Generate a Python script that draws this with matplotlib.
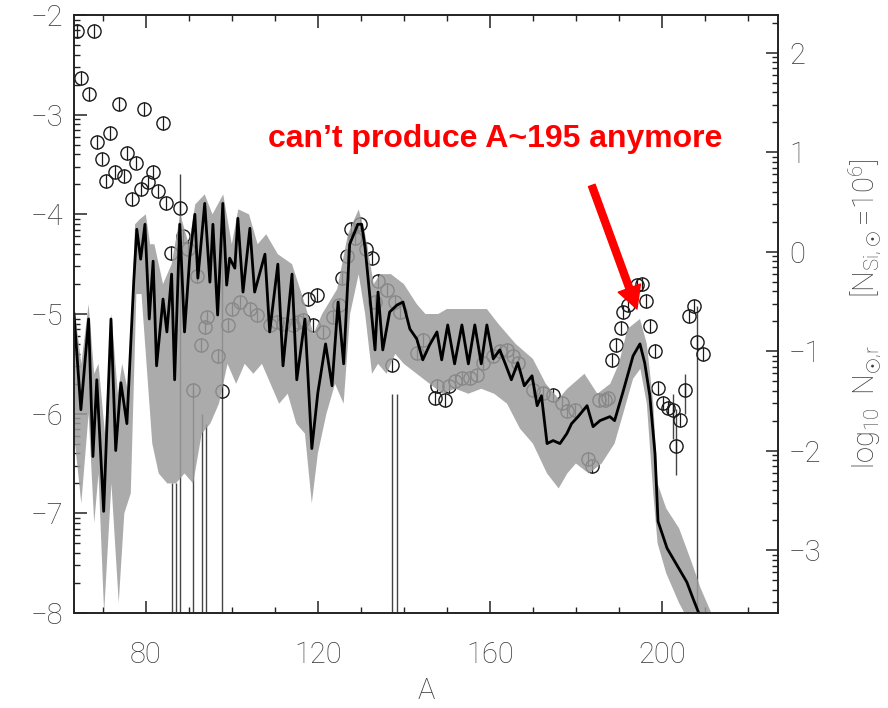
import numpy as np
import matplotlib
matplotlib.use('Agg')
import matplotlib.pyplot as plt
from matplotlib.ticker import FixedLocator

# ---------------- data ----------------
# model abundance curve (left axis: log10 abundance)
line_A = [63.3, 64.9, 66.7, 67.7, 68.6, 70.2, 71.9, 73.0, 74.2, 75.6, 77.2, 77.9, 78.8, 79.8,
          80.8, 81.7, 82.5, 84.0, 84.9, 86.0, 86.7, 87.9, 89.0, 90.2, 91.4, 92.1, 93.7, 94.9,
          95.6, 96.7, 97.9, 98.8, 99.5, 100.7, 101.4, 102.6, 104.2, 105.3, 107.7, 108.8, 110.7,
          111.9, 114.0, 115.1, 117.0, 118.6, 120.0, 121.8, 123.3, 124.7, 126.0, 127.4, 129.3,
          130.2, 131.0, 132.6, 133.3, 134.0, 135.1, 136.7, 138.4, 139.8, 141.4, 143.0, 144.4,
          146.0, 147.7, 148.8, 150.2, 151.8, 153.5, 155.0, 156.5, 158.0, 159.3, 160.8, 162.3,
          163.5, 165.0, 166.5, 168.0, 169.8, 171.0, 172.0, 173.3, 174.7, 176.3, 177.9, 179.0,
          180.5, 182.6, 184.0, 185.6, 187.9, 189.0, 190.9, 193.3, 194.9, 196.0, 197.2, 198.4,
          199.1, 201.2, 203.5, 205.8, 207.2, 209.3]
line_v = [-5.00, -5.96, -5.05, -6.43, -5.66, -6.98, -5.05, -6.37, -5.69, -6.10, -4.67, -4.15, -4.45, -4.10,
          -5.05, -4.47, -5.52, -4.85, -5.18, -4.60, -5.66, -4.10, -5.18, -4.44, -4.00, -4.64, -3.89, -4.68,
          -4.10, -5.01, -3.89, -4.71, -4.44, -4.54, -4.04, -4.78, -4.14, -4.78, -4.40, -5.18, -4.50,
          -5.52, -4.60, -5.66, -5.05, -6.35, -5.79, -5.30, -5.72, -4.88, -5.50, -4.30, -4.10,
          -4.10, -4.34, -5.05, -5.36, -4.78, -5.36, -4.98, -4.91, -4.88, -5.15, -5.25, -5.46,
          -5.31, -5.18, -5.46, -5.11, -5.50, -5.11, -5.50, -5.11, -5.50, -5.11, -5.45, -5.36,
          -5.49, -5.66, -5.49, -5.72, -5.62, -5.92, -5.82, -6.30, -6.27, -6.30, -6.20, -6.10,
          -6.03, -5.92, -6.13, -6.07, -6.03, -6.07, -5.79, -5.42, -5.30, -5.49, -5.82, -6.40,
          -7.08, -7.35, -7.52, -7.69, -7.85, -8.08]

# uncertainty band of the model (upper and lower edges)
band_up_A = [63.3, 65.0, 66.7, 68.0, 69.0, 70.5, 72.0, 73.5, 74.5, 76.0, 77.5, 78.6, 80.0, 81.0, 82.0,
             84.0, 86.0, 88.0, 90.0, 91.5, 93.7, 95.5, 98.0, 100.0, 101.5, 104.0, 106.0, 108.0, 110.7,
             114.0, 117.0, 119.0, 121.0, 124.5, 127.0, 129.5, 131.0, 133.0, 134.5, 137.0, 140.0,
             143.0, 145.0, 148.0, 150.0, 153.5, 156.5, 159.3, 162.0, 166.0, 170.0, 173.0, 176.0,
             178.0, 182.0, 185.0, 188.0, 190.0, 192.0, 194.9, 196.5, 198.0, 199.0, 201.0, 204.0,
             207.0, 209.0, 212.0]
band_up_v = [-4.9, -5.5, -4.9, -5.6, -5.5, -6.2, -5.0, -5.8, -5.5, -5.8, -4.1, -4.05, -4.0, -4.3, -4.3,
             -4.7, -4.5, -4.0, -4.3, -3.9, -3.8, -4.0, -3.8, -4.3, -3.95, -4.0, -4.3, -4.2, -4.4,
             -4.5, -4.9, -5.2, -5.0, -4.75, -4.2, -3.95, -4.2, -4.7, -4.6, -4.6, -4.7,
             -4.9, -5.0, -5.0, -4.95, -4.95, -4.95, -4.95, -5.1, -5.3, -5.45, -5.7, -5.85,
             -5.75, -5.6, -5.8, -5.7, -5.5, -5.15, -5.05, -5.3, -5.9, -6.7, -6.95, -7.15,
             -7.5, -7.75, -8.05]
band_lo_A = [63.3, 65.0, 66.7, 68.0, 69.0, 70.3, 72.0, 73.7, 75.0, 76.5, 77.8, 79.0, 80.5, 81.5, 83.0,
             85.0, 87.0, 89.0, 91.0, 93.0, 95.0, 97.0, 99.0, 101.0, 103.0, 105.0, 107.0, 109.0, 111.0,
             113.0, 115.0, 117.0, 118.6, 120.0, 122.0, 124.0, 126.0, 127.5, 129.5, 131.0, 132.6,
             134.0, 136.0, 138.0, 140.0, 143.0, 146.0, 149.0, 152.0, 155.0, 158.0, 161.0, 164.0,
             167.0, 170.0, 173.3, 176.0, 178.0, 180.0, 183.0, 186.0, 189.0, 191.0, 193.3, 195.0,
             196.5, 198.0, 199.0, 201.0, 204.0, 206.5]
band_lo_v = [-6.2, -6.9, -6.0, -7.1, -6.6, -8.0, -6.7, -7.9, -7.0, -6.8, -4.8, -4.8, -5.7, -6.3, -6.6,
             -6.7, -6.7, -6.6, -6.7, -6.2, -6.1, -5.9, -5.5, -5.7, -5.5, -5.6, -5.5, -5.7, -5.9,
             -5.8, -6.1, -6.2, -6.9, -6.4, -6.0, -5.7, -5.9, -5.0, -4.6, -5.0, -5.6,
             -5.5, -5.6, -5.4, -5.5, -5.6, -5.7, -5.8, -5.75, -5.8, -5.75, -5.8, -5.9,
             -6.15, -6.3, -6.6, -6.75, -6.6, -6.5, -6.6, -6.5, -6.3, -6.0, -5.65, -5.55,
             -5.9, -6.8, -7.3, -7.6, -7.9, -8.1]

# solar r-process abundances (open circles)
obs_A = [64.0, 65.0, 66.7, 67.9, 68.6, 69.8, 70.7, 71.6, 72.8, 73.7, 74.9, 75.6, 76.7, 77.7, 78.8,
         79.5, 80.6, 81.6, 82.8, 83.9, 84.7, 85.8, 87.9, 88.7, 89.9, 91.0, 91.9, 92.8, 93.7, 94.2,
         96.7, 97.7, 99.0, 100.0, 101.9, 104.2, 105.8, 108.8, 110.5, 111.9, 114.2, 115.3, 116.5,
         117.7, 118.8, 119.8, 121.2, 123.5, 124.9, 125.6, 126.7, 127.7, 128.6, 129.8, 131.2,
         132.6, 133.3, 134.0, 136.0, 137.2, 137.9, 139.1, 143.0, 144.4, 147.2, 147.7, 149.5,
         150.5, 151.9, 153.5, 155.3, 157.0, 158.4, 160.7, 162.3, 164.0, 165.3, 166.5, 170.0,
         172.3, 174.7, 176.7, 177.9, 179.8, 182.8, 183.7, 185.3, 186.7, 187.4, 188.4, 189.3,
         190.5, 190.9, 192.1, 194.2, 195.3, 196.3, 197.2, 198.4, 199.1, 200.2, 201.4, 202.6,
         203.3, 204.2, 205.3, 206.3, 207.4, 208.1, 209.5]
obs_v = [-2.16, -2.63, -2.79, -2.16, -3.27, -3.44, -3.67, -3.18, -3.58, -2.89, -3.62, -3.38, -3.85, -3.48, -3.75,
         -2.94, -3.68, -3.58, -3.77, -3.08, -3.89, -4.39, -3.94, -4.22, -4.35, -5.76, -4.62, -5.31, -5.13, -5.03,
         -5.42, -5.77, -5.11, -4.95, -4.88, -4.95, -5.01, -5.11, -5.08, -5.10, -5.11, -5.08, -5.06,
         -4.85, -5.11, -4.81, -5.18, -5.03, -4.91, -4.64, -4.42, -4.15, -4.24, -4.10, -4.35,
         -4.44, -4.88, -4.67, -4.76, -5.51, -4.88, -4.98, -5.39, -5.26, -5.84, -5.72, -5.86,
         -5.72, -5.67, -5.64, -5.64, -5.61, -5.49, -5.42, -5.37, -5.36, -5.42, -5.49, -5.76,
         -5.79, -5.81, -5.89, -5.97, -5.96, -6.45, -6.53, -5.86, -5.86, -5.84, -5.46, -5.31,
         -5.14, -4.98, -4.91, -4.71, -4.70, -4.87, -5.12, -5.37, -5.74, -5.89, -5.94, -5.96,
         -6.32, -6.06, -5.76, -5.02, -4.92, -5.28, -5.40]

# long error bars of the observations
bar_A = [86.0, 87.0, 88.0, 91.0, 93.0, 94.0, 97.8, 137.2, 138.4, 202.6, 203.3, 205.3, 208.1]
bar_lo = [-8.0, -8.0, -8.0, -8.0, -8.0, -8.0, -8.0, -8.0, -8.0, -6.25, -6.62, -6.0, -8.0]
bar_hi = [-6.7, -6.7, -3.6, -5.76, -6.0, -6.1, -3.9, -5.8, -5.8, -5.8, -5.95, -5.6, -4.92]

x_major = [80, 120, 160, 200]
left_major = [-8, -7, -6, -5, -4, -3, -2]
right_major = [-3, -2, -1, 0, 1, 2]
note_text = "can\u2019t produce A~195 anymore"

# ---------------- style ----------------
plt.rcParams['font.family'] = ['Roboto', 'DejaVu Sans']
plt.rcParams['mathtext.fontset'] = 'custom'
plt.rcParams['mathtext.rm'] = 'Roboto:light'
plt.rcParams['mathtext.it'] = 'Roboto:light'
plt.rcParams['mathtext.bf'] = 'Roboto:bold'
plt.rcParams['mathtext.default'] = 'rm'
TXT = '#3c3c3c'

fig = plt.figure(figsize=(8.88, 7.08), dpi=100)
ax = fig.add_axes([74/888, 1-613/708, (778-74)/888, (613-15)/708])
ax2 = ax.twinx()

# band
ax.fill(np.r_[band_up_A, band_lo_A[::-1]], np.r_[band_up_v, band_lo_v[::-1]],
        facecolor='#9c9c9c', edgecolor='none', alpha=0.85, zorder=2)
# observations
ax.vlines(bar_A, bar_lo, bar_hi, colors='#444444', linewidth=1.0, zorder=1.5)
ax.errorbar(obs_A, obs_v, yerr=0.07, fmt='o', ms=9.5, mfc='none', mec='#1a1a1a', mew=1.0,
            ecolor='#1a1a1a', elinewidth=0.9, capsize=0, zorder=1.6)
# model
ax.plot(line_A, line_v, color='black', lw=2.0, zorder=3)

ax.set_xlim(63.3, 227)
ax.set_ylim(-8.0, -2.0)
ax2.set_ylim(-3.63, 2.38)

minor_l = [n + np.log10(k) for n in range(-9, 3) for k in range(2, 10)]
ax.yaxis.set_major_locator(FixedLocator(left_major))
ax.yaxis.set_minor_locator(FixedLocator(minor_l))
ax2.yaxis.set_major_locator(FixedLocator(right_major))
ax2.yaxis.set_minor_locator(FixedLocator(minor_l))
ax.xaxis.set_major_locator(FixedLocator(x_major))
ax.xaxis.set_minor_locator(FixedLocator(list(range(60, 231, 10))))

for a in (ax, ax2):
    for s in a.spines.values():
        s.set_linewidth(1.2)
        s.set_color('#222222')
ax.tick_params(axis='both', which='major', direction='in', length=9, width=1.1,
               labelsize=21, labelcolor=TXT, color='#222222')
ax.tick_params(axis='both', which='minor', direction='in', length=4.5, width=1.0, color='#222222')
ax.tick_params(axis='x', which='both', top=True, bottom=True, pad=20)
ax.tick_params(axis='y', which='both', left=True, right=False, pad=8)
ax2.tick_params(axis='y', which='major', direction='in', length=9, width=1.1,
                labelsize=21, labelcolor=TXT, color='#222222', pad=8)
ax2.tick_params(axis='y', which='minor', direction='in', length=4.5, width=1.0, color='#222222')
for lab in ax.get_xticklabels() + ax.get_yticklabels() + ax2.get_yticklabels():
    lab.set_fontweight('light')

ax.set_xlabel('A', fontsize=21, color=TXT, labelpad=6, fontweight='light')
ax2.set_ylabel(r'$\log_{10}\ N_{\odot{,}r}$       $[N_{Si{,}\odot}\!=\!10^6]$', fontsize=21,
               color=TXT, labelpad=18, fontweight='light')

# annotation
ax.text(108.4, -3.325, note_text, color='#ff0000', fontsize=23, fontweight='bold',
        family=['Liberation Sans', 'DejaVu Sans'], ha='left', va='baseline', zorder=5)
ax.annotate('', xy=(194.2, -4.95), xytext=(183.7, -3.71),
            arrowprops=dict(color='#ff0000', width=5, headwidth=17, headlength=16, shrink=0),
            zorder=5)

fig.savefig('out.png', dpi=100)
